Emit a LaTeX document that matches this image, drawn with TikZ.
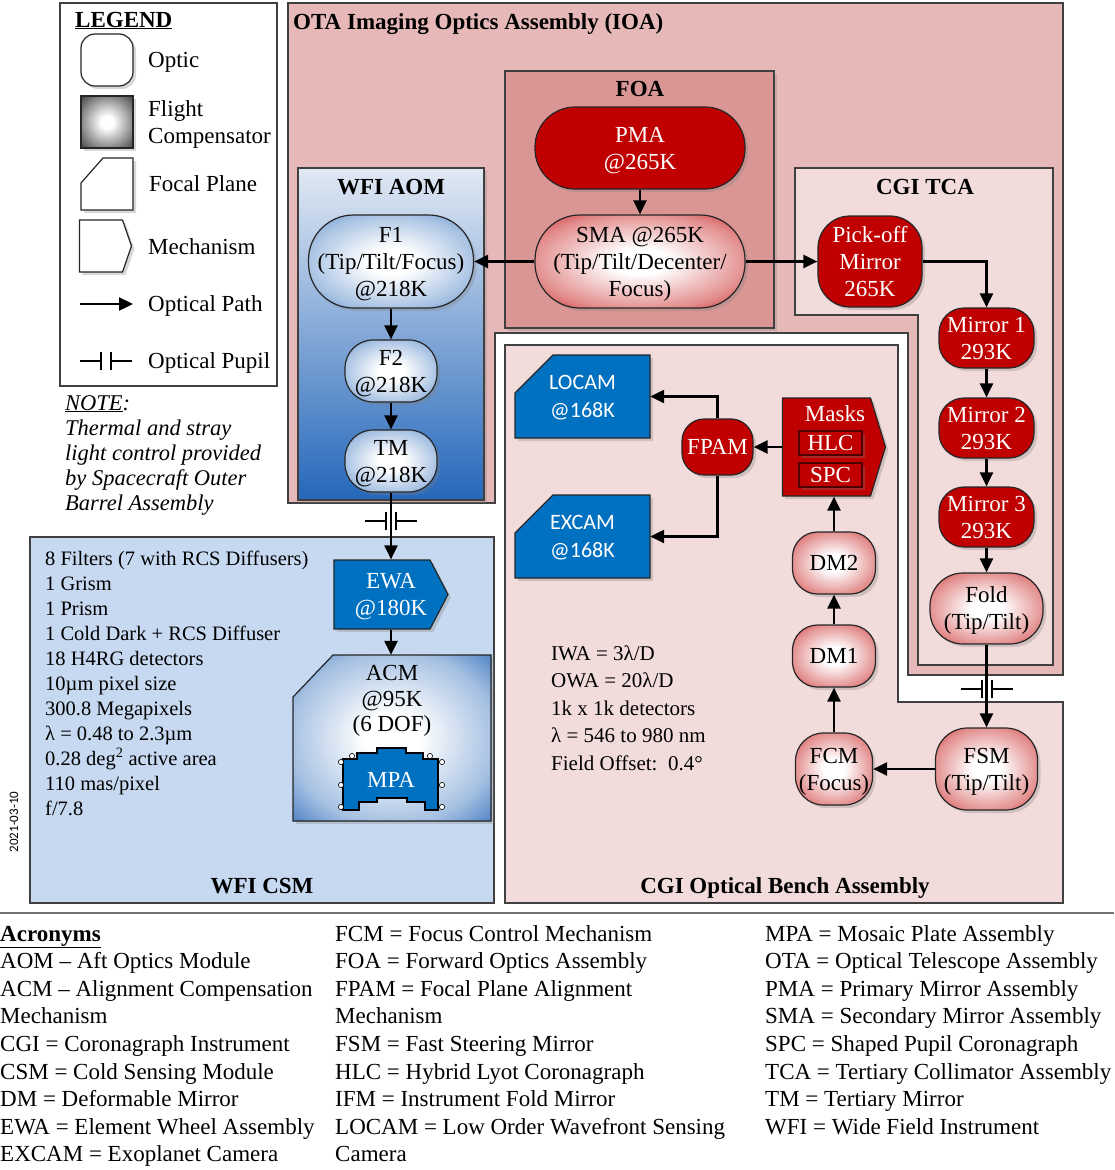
\documentclass[tikz,border=0pt]{standalone}
\usepackage{fontspec}
\setmainfont{Liberation Serif}
\newfontfamily\calibri{Carlito}
\usepackage{tikz}
\usetikzlibrary{arrows.meta,shapes.symbols,shadows}

\definecolor{otapink}{HTML}{E6B9B8}
\definecolor{foapink}{HTML}{D99694}
\definecolor{lightpink}{HTML}{F2DCDB}
\definecolor{myred}{HTML}{C00000}
\definecolor{myblue}{HTML}{0070C0}
\definecolor{glowblue}{HTML}{1F62B6}
\definecolor{csmblue}{HTML}{C6D9F1}
\definecolor{aomtop}{HTML}{E1E9F4}
\definecolor{aommid}{HTML}{B4C7E4}
\definecolor{aombot}{HTML}{2567BA}

\pgfdeclareradialshading{redshine}{\pgfpoint{0bp}{0bp}}{color(0bp)=(white); color(7bp)=(white); color(26bp)=(myred!45!white); color(41bp)=(myred); color(50bp)=(myred!85!black)}
\pgfdeclareradialshading{blueshine}{\pgfpoint{0bp}{0bp}}{color(0bp)=(white); color(7bp)=(white); color(26bp)=(glowblue!40!white); color(41bp)=(glowblue); color(50bp)=(glowblue!90!black)}
\pgfdeclareradialshading{grayshine}{\pgfpoint{0bp}{0bp}}{color(0bp)=(white); color(6bp)=(white); color(36bp)=(black!75); color(50bp)=(black)}

\begin{document}
\begin{tikzpicture}
  [x=1pt,y=-1pt,>={Triangle[length=14pt,width=13pt]},
   every node/.style={font=\fontsize{23}{27}\selectfont,inner sep=0pt,align=center,text depth=0pt},
   box/.style={draw=black!75,line width=1.2pt},
   boxshadow/.style={drop shadow={opacity=.3,shadow xshift=3pt,shadow yshift=-3pt}},
   optic/.style={rectangle,draw=black!85,line width=1.2pt,boxshadow},
   redopt/.style={optic,fill=myred,text=white},
   redshade/.style={optic,shading=redshine},
   blueshade/.style={optic,shading=blueshine},
   focalplane/.style={draw=black!85,line width=1.2pt,boxshadow},
   mechbox/.style={signal,signal to=east,draw=black!85,line width=1.2pt,boxshadow},
   title/.style={font=\bfseries\fontsize{23}{27}\selectfont},
   flow/.style={->,line width=2.4pt},
   pupilmark/.pic={\draw[line width=2pt] (-26,0) -- (-5,0) (-5,-9) -- (-5,9) (5,-9) -- (5,9) (5,0) -- (26,0);}]

  \useasboundingbox[fill=white] (0,0) rectangle (1114,1170);

  % regions
  \filldraw[box,fill=otapink] (288,3) -- (1063,3) -- (1063,675) -- (908,675) -- (908,333)
    -- (495,333) -- (495,503) -- (288,503) -- cycle;
  \filldraw[box,fill=foapink,boxshadow] (505,71) rectangle (774,328);
  \filldraw[box,top color=aomtop,middle color=aommid,bottom color=aombot,boxshadow] (298,168) rectangle (484,500);
  \filldraw[box,fill=lightpink] (795,168) -- (1053,168) -- (1053,665) -- (918,665) -- (918,315)
    -- (795,315) -- cycle;
  \filldraw[box,fill=lightpink] (505,345) -- (898,345) -- (898,702) -- (1063,702) -- (1063,903)
    -- (505,903) -- cycle;
  \filldraw[box,fill=csmblue] (30,537) rectangle (494,903);
  \draw[box,fill=white] (60,3) rectangle (277,386);
  \draw[black!55,line width=2pt] (0,913) -- (1114,913);

  \node[title,anchor=base west] (tota) at (293,29) {OTA Imaging Optics Assembly (IOA)};
  \node[title,anchor=base] (tfoa) at (640,96) {FOA};
  \node[title,anchor=base] (taom) at (391,194) {WFI AOM};
  \node[title,anchor=base] (ttca) at (925,194) {CGI TCA};
  \node[title,anchor=base] (tcsm) at (262,893) {WFI CSM};
  \node[title,anchor=base] (tbench) at (785,893) {CGI Optical Bench Assembly};

  % legend
  \node[title,anchor=base west] (tlegend) at (75,27) {\underline{LEGEND}};
  \node[optic,fill=white,rounded corners=14pt,minimum width=52pt,minimum height=52pt] (nlopt) at (107,60) {};
  \node[optic,shading=grayshine,minimum width=52pt,minimum height=52pt] (nlflt) at (107,122) {};
  \filldraw[focalplane,fill=white] (81,183) -- (103,158) -- (133,158) -- (133,210) -- (81,210) -- cycle;
  \node[minimum width=52pt,minimum height=52pt] (nlfoc) at (107,184) {};
  \node[mechbox,fill=white,signal pointer angle=142,minimum width=52pt,minimum height=52pt] (nlmech) at (101,246) {};
  \coordinate (lpa) at (80,304);
  \coordinate (lpb) at (133,304);
  \draw[flow] (lpa) -- (lpb);
  \pic at (106,361) {pupilmark};
  \node[anchor=base west] (lopt) at (148,67) {Optic};
  \node[anchor=base west] (lflt) at (148,116) {Flight};
  \node[anchor=base west] (lcmp) at (148,143) {Compensator};
  \node[anchor=base west] (lfoc) at (149,191) {Focal Plane};
  \node[anchor=base west] (lmech) at (148,254) {Mechanism};
  \node[anchor=base west] (lpath) at (148,311) {Optical Path};
  \node[anchor=base west] (lpup) at (148,368) {Optical Pupil};

  % note
  \foreach \txt [count=\i from 0] in {\underline{NOTE}:,Thermal and stray,light control provided,by Spacecraft Outer,Barrel Assembly}
    \node[anchor=base west,font=\itshape\fontsize{22.5}{25}\selectfont] (note\i) at (65,410+25*\i) {\txt};

  % FOA
  \node[redopt,rounded corners=40pt,minimum width=210pt,minimum height=82pt] (npma) at (640,148) {PMA\\@265K};
  \node[redshade,rounded corners=45pt,minimum width=210pt,minimum height=93pt] (nsma) at (640,261.5) {SMA @265K\\(Tip/Tilt/Decenter/\\Focus)};

  % WFI AOM
  \node[blueshade,rounded corners=45pt,minimum width=165pt,minimum height=93pt] (nf1) at (391,261.5) {F1\\(Tip/Tilt/Focus)\\@218K};
  \node[blueshade,rounded corners=28pt,minimum width=92pt,minimum height=62pt] (nf2) at (391,371) {F2\\@218K};
  \node[blueshade,rounded corners=28pt,minimum width=92pt,minimum height=62pt] (ntm) at (391,461) {TM\\@218K};

  % CGI TCA
  \node[redopt,rounded corners=32pt,minimum width=104pt,minimum height=91pt] (npick) at (870,261.5) {Pick-off\\Mirror\\265K};
  \node[redopt,rounded corners=25pt,minimum width=95pt,minimum height=60pt] (nmir1) at (986.5,338) {Mirror 1\\293K};
  \node[redopt,rounded corners=25pt,minimum width=95pt,minimum height=60pt] (nmir2) at (986.5,428) {Mirror 2\\293K};
  \node[redopt,rounded corners=25pt,minimum width=95pt,minimum height=60pt] (nmir3) at (986.5,517) {Mirror 3\\293K};
  \node[redshade,rounded corners=33pt,minimum width=113pt,minimum height=71pt] (nfold) at (986.5,608.5) {Fold\\(Tip/Tilt)};

  % CGI optical bench
  \node[redshade,rounded corners=32pt,minimum width=102pt,minimum height=82pt] (nfsm) at (986.5,769) {FSM\\(Tip/Tilt)};
  \node[redshade,rounded corners=28pt,minimum width=77pt,minimum height=72pt] (nfcm) at (834,769) {FCM\\(Focus)};
  \node[redshade,rounded corners=25pt,minimum width=83pt,minimum height=62pt] (ndm1) at (834,656) {DM1};
  \node[redshade,rounded corners=25pt,minimum width=83pt,minimum height=62pt] (ndm2) at (834,563) {DM2};
  \node[mechbox,fill=myred,signal pointer angle=146,minimum width=103pt,minimum height=98pt] (nmasks) at (826.5,447) {};
  \node[text=white,anchor=base] (lmasks) at (835,421) {Masks};
  \node[draw=black!60!myred,fill=myred,text=white,line width=1.2pt,minimum width=63pt,minimum height=24pt,boxshadow] (nhlc) at (830.5,443) {HLC};
  \node[draw=black!60!myred,fill=myred,text=white,line width=1.2pt,minimum width=63pt,minimum height=24pt,boxshadow] (nspc) at (830.5,475) {SPC};
  \node[redopt,rounded corners=22pt,minimum width=71pt,minimum height=56pt] (nfpam) at (717.5,447) {FPAM};
  \filldraw[focalplane,fill=myblue] (515,393) -- (553,355) -- (650,355) -- (650,438) -- (515,438) -- cycle;
  \node[text=white,font=\calibri\fontsize{22}{28}\selectfont,minimum width=135pt,minimum height=83pt] (nlocam) at (582.5,396.5) {LOCAM\\@168K};
  \filldraw[focalplane,fill=myblue] (515,533) -- (553,495) -- (650,495) -- (650,578) -- (515,578) -- cycle;
  \node[text=white,font=\calibri\fontsize{22}{28}\selectfont,minimum width=135pt,minimum height=83pt] (nexcam) at (582.5,536.5) {EXCAM\\@168K};

  \foreach \txt [count=\i from 0] in {IWA = 3λ/D,OWA = 20λ/D,1k x 1k detectors,λ = 546 to 980 nm,Field Offset:\ \ 0.4°}
    \node[anchor=base west,font=\fontsize{21}{27}\selectfont] (bench\i) at (551,660+27.5*\i) {\txt};

  % WFI CSM
  \node[mechbox,fill=myblue,signal pointer angle=125,minimum width=114pt,minimum height=69pt] (newa) at (382,594.5) {};
  \node[text=white] (lewa) at (391,594.5) {EWA\\@180K};
  \filldraw[focalplane,shading=blueshine] (293,697) -- (333,655) -- (491,655) -- (491,821) -- (293,821) -- cycle;
  \node[minimum width=198pt,minimum height=166pt] (nacm) at (392,738) {};
  \node[font=\fontsize{23}{25.5}\selectfont] (lacm) at (392,698.5) {ACM\\@95K\\(6 DOF)};
  \filldraw[fill=myblue,draw=black,line width=1.2pt] (343,759) -- (357,759) -- (357,753) -- (377,753) -- (377,748)
    -- (406,748) -- (406,753) -- (423,753) -- (423,759) -- (438,759) -- (438,810) -- (425,810)
    -- (425,802) -- (407,802) -- (407,798) -- (377,798) -- (377,802) -- (359,802) -- (359,810)
    -- (343,810) -- cycle;
  \foreach \p in {(341,762),(352,756),(430,756),(442,762),(341,785),(442,785),(341,807),(442,807)}
    \filldraw[fill=white,draw=black,line width=.6pt] \p circle (2.6);
  \node[text=white] (nmpa) at (391,780) {MPA};

  \foreach \txt [count=\i from 0] in {8 Filters (7 with RCS Diffusers),1 Grism,1 Prism,1 Cold Dark + RCS Diffuser,18 H4RG detectors,10µm pixel size,300.8 Megapixels,λ = 0.48 to 2.3µm,0.28 deg\textsuperscript{2} active area,110 mas/pixel,f/7.8}
    \node[anchor=base west,font=\fontsize{20.5}{25}\selectfont] (csm\i) at (45,565+25*\i) {\txt};

  \node[rotate=90,font=\calibri\fontsize{13}{13}\selectfont] (ndate) at (14,822) {2021-03-10};

  % optical path
  \path[flow] (npma) edge (nsma);
  \path[flow] (nsma.west) edge (nf1.east);
  \path[flow] (nsma.east) edge (npick.west);
  \draw[flow] (npick.east) -| (nmir1.north);
  \path[flow] (nmir1) edge (nmir2);
  \path[flow] (nmir2) edge (nmir3);
  \path[flow] (nmir3) edge (nfold);
  \draw[flow] (nfold) -- (nfsm);
  \pic at (986.5,689) {pupilmark};
  \path[flow] (nfsm) edge (nfcm);
  \path[flow] (nfcm) edge (ndm1);
  \path[flow] (ndm1) edge (ndm2);
  \path[flow] (ndm2.north) edge (nmasks.south -| ndm2.north);
  \path[flow] (nmasks.west) edge (nfpam.east);
  \draw[flow] (nfpam.north) |- (nlocam.east);
  \draw[flow] (nfpam.south) |- (nexcam.east);
  \path[flow] (nf1) edge (nf2);
  \path[flow] (nf2) edge (ntm);
  \draw[flow] (ntm.south) -- (ntm.south |- newa.north);
  \pic at (391,521) {pupilmark};
  \path[flow] (newa.south -| ntm.south) edge (nacm.north -| ntm.south);

  % acronyms
  \foreach \txt [count=\i from 0] in {\underline{\textbf{Acronyms}},AOM -- Aft Optics Module,ACM -- Alignment Compensation,Mechanism,CGI = Coronagraph Instrument,CSM = Cold Sensing Module,DM = Deformable Mirror,EWA = Element Wheel Assembly,EXCAM = Exoplanet Camera}
    \node[anchor=base west] (acra\i) at (0,941+27.6*\i) {\txt};
  \foreach \txt [count=\i from 0] in {FCM = Focus Control Mechanism,FOA = Forward Optics Assembly,FPAM = Focal Plane Alignment,Mechanism,FSM = Fast Steering Mirror,HLC = Hybrid Lyot Coronagraph,IFM = Instrument Fold Mirror,LOCAM = Low Order Wavefront Sensing,Camera}
    \node[anchor=base west] (acrb\i) at (335,941+27.6*\i) {\txt};
  \foreach \txt [count=\i from 0] in {MPA = Mosaic Plate Assembly,OTA = Optical Telescope Assembly,PMA = Primary Mirror Assembly,SMA = Secondary Mirror Assembly,SPC = Shaped Pupil Coronagraph,TCA = Tertiary Collimator Assembly,TM = Tertiary Mirror,WFI = Wide Field Instrument}
    \node[anchor=base west] (acrc\i) at (765,941+27.6*\i) {\txt};
\end{tikzpicture}
\end{document}
